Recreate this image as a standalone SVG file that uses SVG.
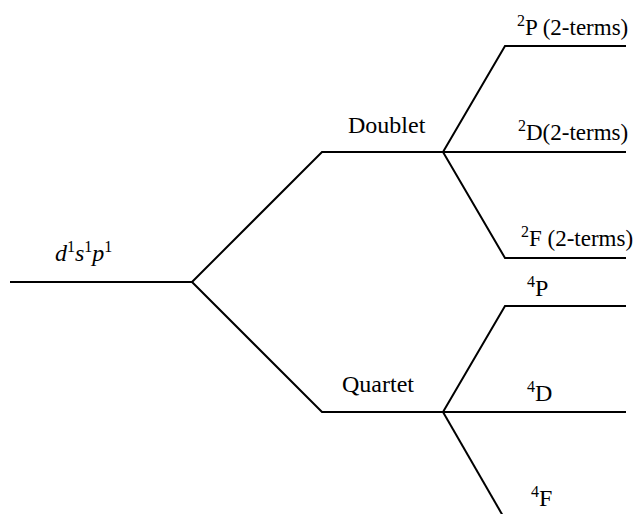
<svg xmlns="http://www.w3.org/2000/svg" width="644" height="514" viewBox="0 0 644 514">
<style>
.ln{stroke:#000;stroke-width:2;fill:none;stroke-linejoin:miter}
text{font-family:'Liberation Serif','DejaVu Serif',serif;font-size:24px;fill:#000}
.r{font-size:23px}
.s{font-size:16px}
</style>
<rect width="644" height="514" fill="#fff"/>
<g id="connectors">
<polyline class="ln" points="10,282 192,282"/>
<polyline class="ln" points="192,282 322,152 443,152"/>
<polyline class="ln" points="192,282 322,412 443,412"/>
<polyline class="ln" points="443,152 505,46 626,46"/>
<polyline class="ln" points="443,152 626,152"/>
<polyline class="ln" points="443,152 505,258 626,258"/>
<polyline class="ln" points="443,412 505,306 626,306"/>
<polyline class="ln" points="443,412 626,412"/>
<polyline class="ln" points="443,412 503,516"/>
</g>
<g id="config"><text x="55" y="261" font-style="italic">d<tspan class="s" dy="-9" font-style="normal">1</tspan><tspan dy="9">s</tspan><tspan class="s" dy="-9" font-style="normal">1</tspan><tspan dy="9">p</tspan><tspan class="s" dy="-9" font-style="normal">1</tspan></text></g>
<g id="doublet"><text x="348" y="133">Doublet</text></g>
<g id="quartet"><text x="342" y="392">Quartet</text></g>
<g id="t2P"><text class="r" x="517" y="35"><tspan class="s" dy="-9">2</tspan><tspan dy="9">P (2-terms)</tspan></text></g>
<g id="t2D"><text class="r" x="518" y="140"><tspan class="s" dy="-9">2</tspan><tspan dy="9">D(2-terms)</tspan></text></g>
<g id="t2F"><text class="r" x="521" y="246"><tspan class="s" dy="-9">2</tspan><tspan dy="9">F (2-terms)</tspan></text></g>
<g id="t4P"><text x="527" y="296"><tspan class="s" dy="-9">4</tspan><tspan dy="9">P</tspan></text></g>
<g id="t4D"><text x="527" y="401"><tspan class="s" dy="-9">4</tspan><tspan dy="9">D</tspan></text></g>
<g id="t4F"><text x="531" y="506"><tspan class="s" dy="-9">4</tspan><tspan dy="9">F</tspan></text></g>
</svg>
